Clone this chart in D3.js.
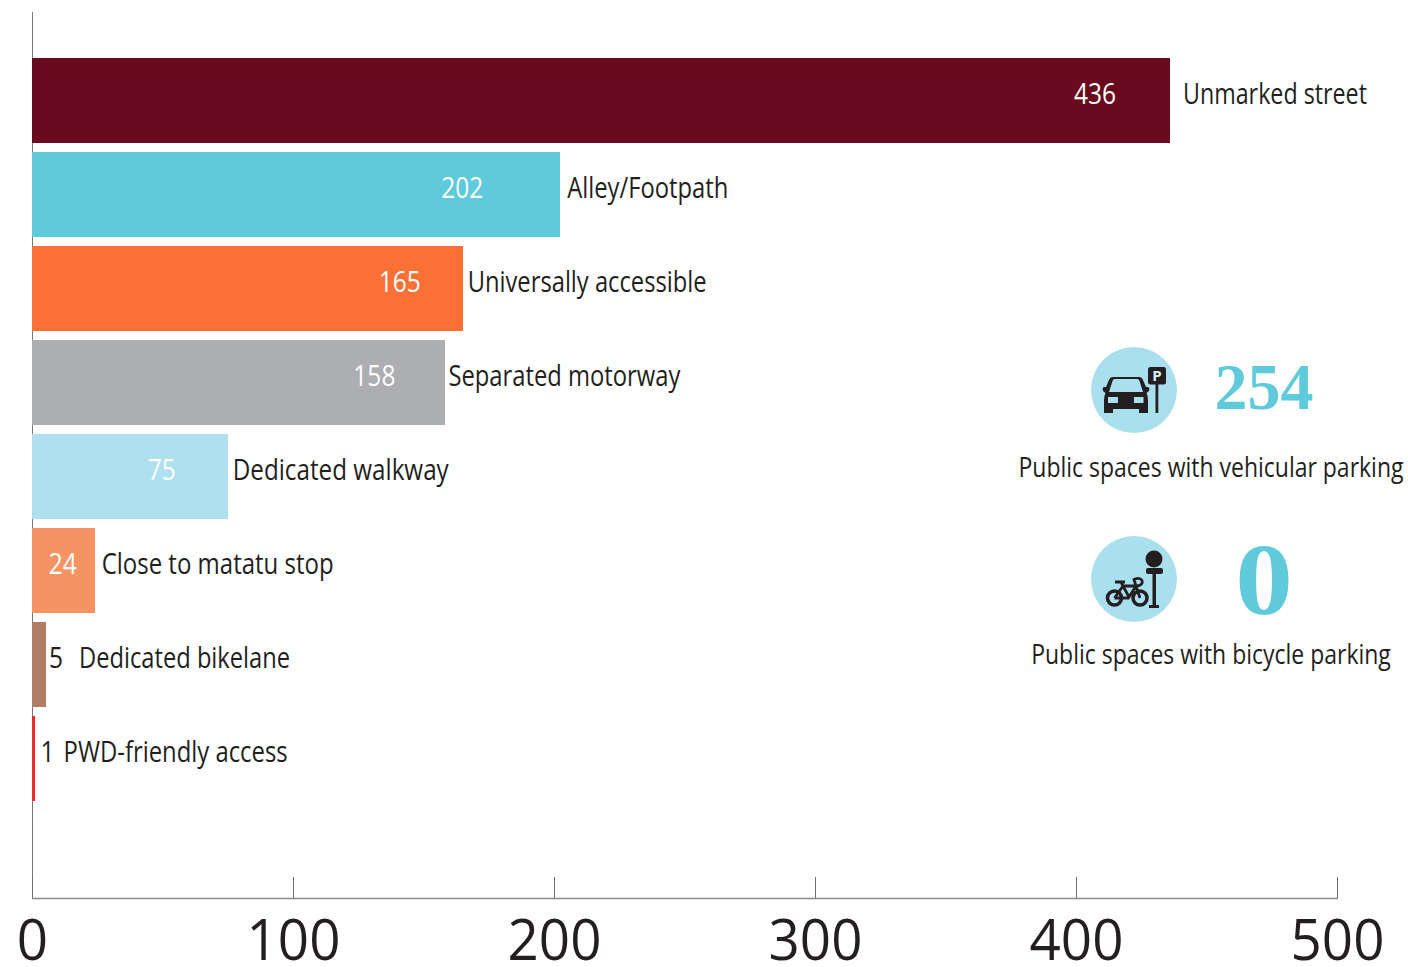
<!DOCTYPE html>
<html><head><meta charset="utf-8">
<style>html,body{margin:0;padding:0;background:#fff}svg{display:block}text{font-family:"Open Sans",sans-serif}</style>
<script src="https://cdn.jsdelivr.net/npm/d3@7/dist/d3.min.js"></script></head>
<body><div id="c"></div>
<script>
const categories=["Unmarked street","Alley/Footpath","Universally accessible","Separated motorway","Dedicated walkway","Close to matatu stop","Dedicated bikelane","PWD-friendly access"];
const values=[436,202,165,158,75,24,5,1];
const barColors=["#6a0a1e","#5fcadb","#fd7035","#adaeb2","#aee0f0","#f69362","#b27d65","#f22a2a"];
const valueColors=["#fff","#fff","#fff","#fff","#fff","#fff","#231f20","#231f20"];
const tickValues=[0,100,200,300,400,500];
const stats=[{v:"254",label:"Public spaces with vehicular parking"},{v:"0",label:"Public spaces with bicycle parking"}];
// label placement relative to the bar end
const valueOffsets=[-75,-97,-63,-70,-66,-32,11,13];
const nameOffsets=[13,8,5,4,5,7,34,29];
const nameWidths=[184,161,239,232,216,232,211,224];

const W=1408,H=967,ink="#231f20";
const svg=d3.select("#c").append("svg").attr("width",W).attr("height",H);
const x=d3.scaleLinear().domain([0,500]).range([32,1337]);
const y=d3.scaleBand().domain(categories).range([54,805]).paddingInner(9/94).paddingOuter(4/94);

function label(g,px,py,txt,size,fill,anchor,sx){
  return g.append("text").attr("transform",`translate(${px},${py}) scale(${sx},1)`)
    .attr("text-anchor",anchor||"start").attr("font-size",size).attr("fill",fill).text(txt);
}
// axes
svg.append("line").attr("x1",32.5).attr("x2",32.5).attr("y1",12).attr("y2",898).attr("stroke","#77787b").attr("stroke-width",1);
const axis=svg.append("g").attr("transform","translate(0,898)").call(d3.axisBottom(x).tickValues(tickValues).tickSize(-21).tickPadding(0));
axis.select(".domain").attr("stroke","#8a8b8d").attr("stroke-width",1.5).attr("d",`M${x(0)},0.5H${x(500)+1}`);
axis.selectAll(".tick line").attr("stroke","#6d6e71").attr("stroke-width",1);
axis.selectAll(".tick text").remove();
tickValues.forEach(t=>{svg.append("text").attr("x",x(t)+0.5).attr("y",960).attr("text-anchor","middle")
  .attr("font-size",57).attr("fill",ink).attr("textLength",String(t).length*31.3).attr("lengthAdjust","spacingAndGlyphs").text(t);});
// bars
svg.selectAll("rect.bar").data(values).join("rect").attr("class","bar")
  .attr("x",x(0)).attr("y",(d,i)=>y(categories[i])).attr("width",d=>Math.ceil(x(d))-x(0)).attr("height",y.bandwidth())
  .attr("fill",(d,i)=>barColors[i]);
values.forEach((d,i)=>{
  const yy=y(categories[i])+46;
  label(svg,x(d)+valueOffsets[i],yy,d,29,valueColors[i],"middle",0.845);
  svg.append("text").attr("x",x(d)+nameOffsets[i]).attr("y",yy).attr("font-size",29).attr("fill",ink)
    .attr("textLength",nameWidths[i]).attr("lengthAdjust","spacingAndGlyphs").text(categories[i]);
});
// callouts
const cY=[390,579];
cY.forEach(c=>svg.append("circle").attr("cx",1134).attr("cy",c).attr("r",43).attr("fill","#aadfee"));
// car icon
const car=svg.append("g").attr("transform","translate(1134,390)").attr("fill",ink);
car.append("path").attr("d","M-21,-13 H5 Q8,-13 9,-10 L12,-3 H14 Q16,-2.5 15,1 L12.5,3 Q14,6 14,10 V23 H5 V19 H-21 V23 H-30 V10 Q-30,6 -28.5,3 L-31,1 Q-32,-2.5 -30,-3 H-28 L-25,-10 Q-24,-13 -21,-13Z");
car.append("path").attr("d","M-25,2 L-21.5,-9 Q-21,-11 -19,-11 H3 Q5,-11 5.5,-9 L9,2 Z").attr("fill","#aadfee");
car.append("rect").attr("x",-26).attr("y",7).attr("width",10).attr("height",6).attr("fill","#aadfee");
car.append("rect").attr("x",0).attr("y",7).attr("width",9.5).attr("height",6).attr("fill","#aadfee");
car.append("rect").attr("x",14).attr("y",-23).attr("width",18).attr("height",17.5).attr("rx",2.5);
car.append("rect").attr("x",21.5).attr("y",-6).attr("width",2.8).attr("height",29);
svg.append("text").attr("x",1157).attr("y",381).attr("text-anchor","middle").attr("font-size",15).attr("font-weight",700).attr("fill","#d8f0f6").text("P");
// bike icon
const bike=svg.append("g").attr("transform","translate(1134,579)");
bike.append("circle").attr("cx",20).attr("cy",-20).attr("r",8.5).attr("fill",ink);
bike.append("rect").attr("x",12).attr("y",-11).attr("width",17).attr("height",6).attr("rx",2).attr("fill",ink);
bike.append("rect").attr("x",18.5).attr("y",-6).attr("width",3.5).attr("height",33).attr("fill",ink);
bike.append("rect").attr("x",15).attr("y",26).attr("width",10).attr("height",3).attr("fill",ink);
const wheels=bike.append("g").attr("fill","none").attr("stroke",ink).attr("stroke-width",3.6);
wheels.append("circle").attr("cx",-19.5).attr("cy",19).attr("r",7);
wheels.append("circle").attr("cx",6).attr("cy",19).attr("r",7);
wheels.append("path").attr("stroke-width",2.8).attr("d","M-19.5,19 L-11,7 H2 L6,19 M-11,7 L-5,18 L2,7 M-19.5,19 H-5 M-19,3 H-9 M-11,7 L-13,3 M2,7 L0,0.5 Q6,-2 8,1.5 Q9.5,6 3,7");
// stat numbers
const big=svg.append("g").style("font-family","'Liberation Serif',serif").attr("font-weight",700).attr("fill","#5fcadb").attr("text-anchor","middle");
big.append("text").attr("x",1264).attr("y",409).attr("font-size",66).style("font-family","inherit").text(stats[0].v);
big.append("text").attr("transform","translate(1264,614) scale(1.13,1)").attr("font-size",102).style("font-family","inherit").text(stats[1].v);
[477,664].forEach((yy,i)=>label(svg,1211,yy,stats[i].label,27.5,ink,"middle",0.836));
</script></body></html>
